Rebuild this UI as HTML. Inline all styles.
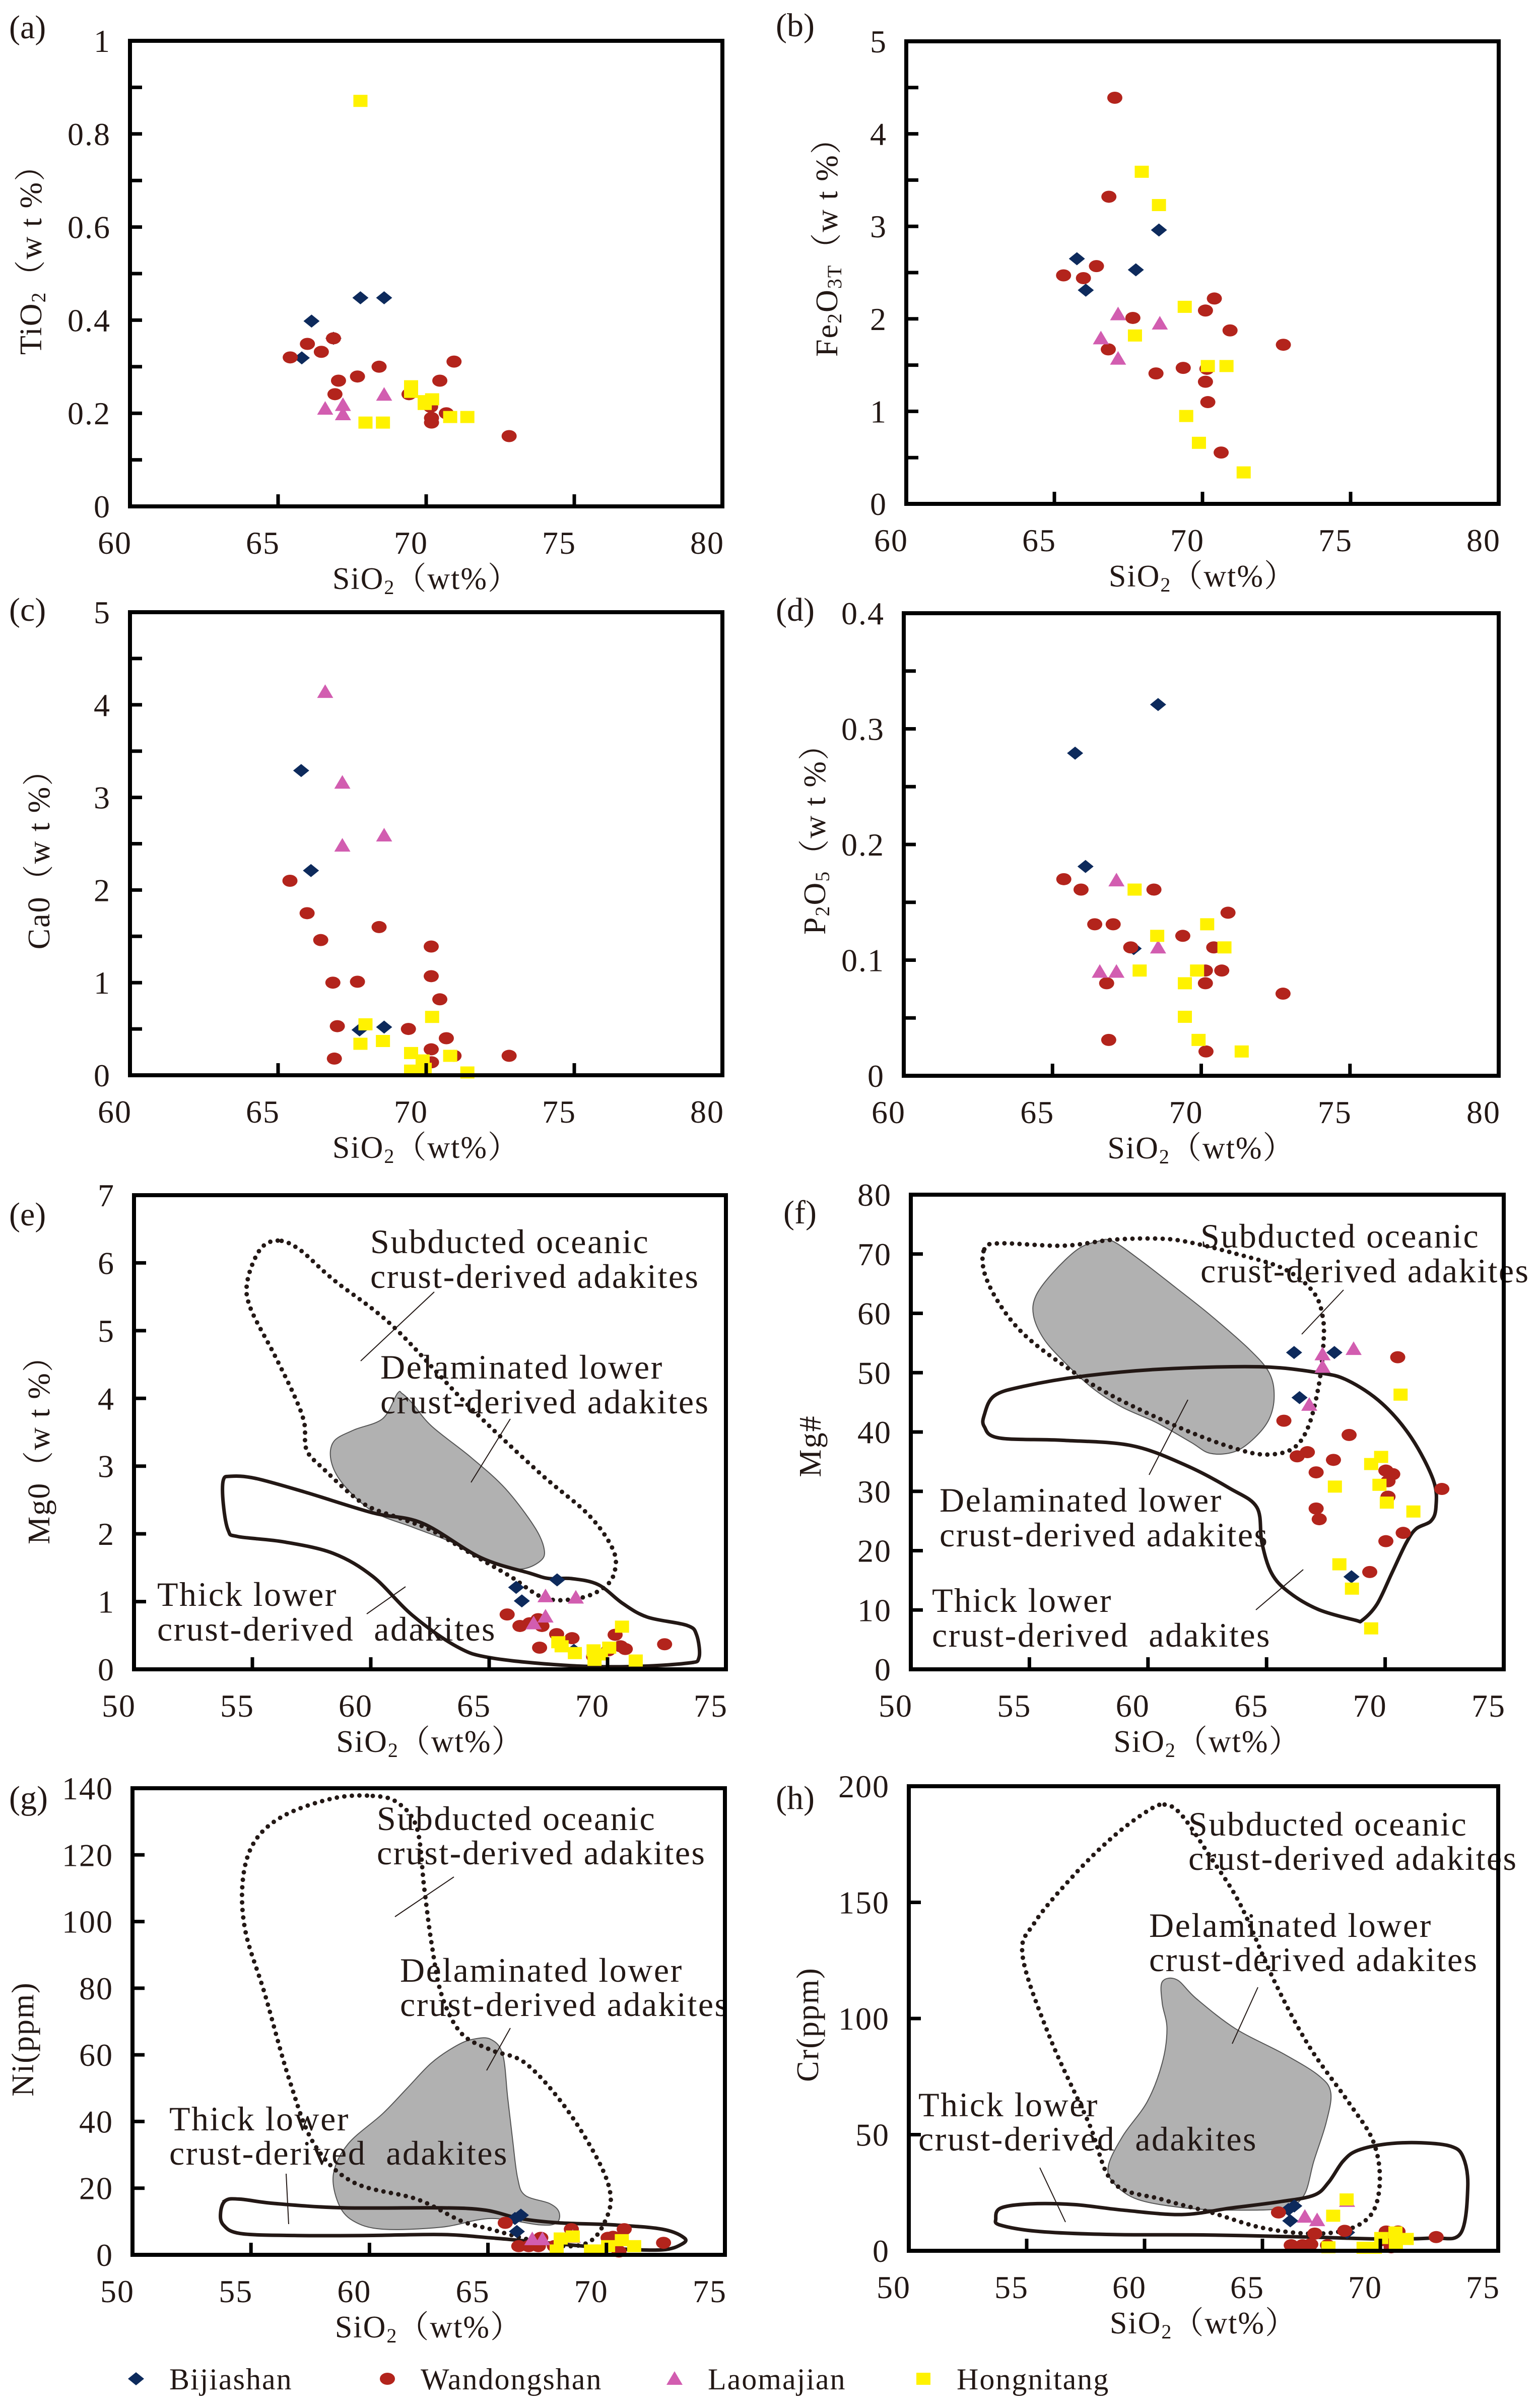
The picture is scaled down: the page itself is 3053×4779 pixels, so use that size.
<!DOCTYPE html>
<html><head><meta charset="utf-8"><title>SiO2 variation diagrams</title>
<style>
html,body{margin:0;padding:0;background:#fff;}
svg{display:block;font-family:"Liberation Serif","Noto Serif CJK SC",serif;}
</style></head>
<body>
<svg id="fig" width="3053" height="4779" viewBox="0 0 3053 4779" xmlns="http://www.w3.org/2000/svg"></svg>
<script>
// ---------------- DATA (SiO2 wt%, oxide value) ----------------
// (a) TiO2
const aBij=[[66.13,0.398],[67.78,0.448],[68.58,0.448],[65.8,0.319],[66.87,0.361]];
const aWan=[[65.41,0.32],[65.99,0.349],[66.46,0.332],[66.87,0.361],[67.04,0.27],[66.92,0.241],[67.68,0.279],[68.41,0.3],[69.42,0.241],[70.15,0.214],[70.18,0.19],[70.18,0.18],[70.46,0.27],[70.68,0.2],[70.94,0.311],[72.8,0.151]];
const aLao=[[66.59,0.21],[67.19,0.218],[67.19,0.198],[68.58,0.24]];
const aHon=[[67.78,0.871],[69.49,0.258],[69.49,0.246],[69.95,0.226],[70.2,0.23],[69.95,0.22],[67.95,0.18],[68.54,0.18],[70.81,0.192],[71.39,0.192]];
// (b) Fe2O3T
const bBij=[[65.76,2.65],[66.06,2.31],[67.75,2.53],[68.53,2.96]];
const bWan=[[67.04,4.39],[66.84,3.32],[66.42,2.57],[65.31,2.47],[65.98,2.44],[67.65,2.01],[66.82,1.67],[68.43,1.41],[69.35,1.47],[70.1,2.09],[70.4,2.22],[70.93,1.875],[70.1,1.32],[70.18,1.1],[70.63,0.555],[72.73,1.72],[70.15,1.46]];
const bLao=[[67.15,2.05],[66.57,1.79],[67.15,1.57],[68.56,1.95]];
const bHon=[[67.95,3.59],[68.53,3.23],[69.4,2.13],[67.72,1.82],[70.18,1.49],[70.81,1.49],[69.45,0.95],[69.88,0.66],[71.39,0.34]];
// (c) CaO
const cBij=[[65.78,3.29],[66.11,2.21],[67.75,0.49],[68.58,0.52]];
const cWan=[[65.4,2.1],[65.98,1.75],[66.44,1.46],[68.41,1.6],[66.85,1.0],[67.68,1.01],[67.0,0.53],[66.9,0.18],[69.4,0.5],[70.17,1.39],[70.17,1.07],[70.46,0.82],[70.68,0.4],[70.17,0.28],[70.18,0.14],[70.94,0.21],[72.8,0.21]];
const cLao=[[66.59,4.14],[67.17,3.16],[67.17,2.48],[68.58,2.59]];
const cHon=[[67.95,0.55],[67.78,0.34],[68.54,0.37],[70.2,0.63],[69.49,0.24],[69.88,0.16],[69.49,0.05],[69.95,0.07],[70.81,0.21],[71.39,0.03]];
// (d) P2O5
const dBij=[[65.76,0.279],[66.11,0.181],[68.55,0.321],[67.73,0.11]];
const dWan=[[65.38,0.17],[65.96,0.161],[66.42,0.131],[67.04,0.131],[67.63,0.111],[68.41,0.161],[69.38,0.121],[70.14,0.091],[70.14,0.08],[70.42,0.111],[70.69,0.091],[70.9,0.141],[66.82,0.08],[66.89,0.031],[70.16,0.021],[72.75,0.071]];
const dLao=[[67.15,0.169],[66.59,0.09],[67.15,0.09],[68.55,0.111]];
const dHon=[[67.76,0.161],[68.52,0.121],[67.93,0.091],[70.2,0.131],[70.78,0.111],[69.86,0.091],[69.45,0.08],[69.45,0.051],[69.91,0.031],[71.36,0.021]];
// (e) MgO
const eBij=[[66.14,1.21],[66.38,1.01],[67.87,1.32],[68.58,0.28]];
const eWan=[[65.76,0.81],[66.3,0.64],[66.71,0.68],[67.07,0.74],[67.23,0.64],[67.13,0.32],[67.85,0.52],[68.5,0.46],[69.41,0.19],[70.03,0.28],[70.32,0.51],[70.55,0.34],[70.75,0.3],[72.41,0.37]];
const eLao=[[67.38,1.08],[68.66,1.06],[67.38,0.78],[66.88,0.68]];
const eHon=[[67.92,0.4],[68.06,0.34],[68.62,0.24],[69.41,0.28],[69.72,0.22],[69.45,0.14],[70.07,0.32],[70.61,0.63],[71.19,0.13]];
const eSub=[[56.07,6.33],[55.33,6.2],[54.8,5.75],[54.9,5.35],[55.95,4.63],[56.77,4.04],[57.19,3.64],[57.29,3.24],[58.0,2.96],[59.67,2.45],[61.33,2.22],[62.57,2.05],[64.23,1.71],[65.9,1.37],[67.35,1.05],[68.8,1.05],[69.82,1.2],[70.28,1.42],[70.24,1.76],[69.2,2.28],[67.13,2.9],[64.02,3.93],[60.92,5.07],[58.43,5.75],[56.98,6.2]];
const eDel=[[61.12,4.07],[60.5,3.7],[59.26,3.53],[58.43,3.36],[58.33,3.07],[58.84,2.73],[60.09,2.33],[61.75,2.1],[63.4,1.88],[65.06,1.59],[66.3,1.48],[67.13,1.59],[67.33,1.76],[66.92,2.1],[65.68,2.67],[64.23,3.13],[62.57,3.59],[61.75,3.93],[61.33,4.07]];
const eThk=[[53.77,2.79],[54.08,2.85],[55.12,2.82],[57.19,2.62],[60.09,2.31],[62.16,2.16],[64.64,1.65],[66.71,1.42],[67.54,1.34],[68.47,1.34],[69.61,1.25],[70.65,0.97],[71.69,0.77],[73.34,0.65],[73.76,0.51],[73.86,0.17],[73.34,0.09],[70.86,0.04],[68.16,0.06],[65.06,0.17],[63.61,0.34],[61.75,0.8],[60.09,1.37],[58.43,1.71],[56.36,1.88],[54.39,1.96],[53.98,2.05],[53.77,2.45]];
// (f) Mg#
const fBij=[[66.16,53.4],[67.86,53.4],[66.39,45.8],[68.58,15.6]];
const fWan=[[70.53,52.6],[65.73,41.9],[68.48,39.5],[66.29,35.9],[66.72,36.6],[67.82,35.3],[67.09,33.2],[70.03,33.5],[70.32,32.9],[70.12,31.7],[70.12,29.1],[67.09,27.1],[67.22,25.3],[70.76,23.0],[70.03,21.6],[69.35,16.4],[72.39,30.4]];
const fLao=[[67.36,53.1],[67.36,51.0],[68.67,54.0],[66.8,44.6]];
const fHon=[[70.65,46.3],[69.83,35.8],[69.41,34.6],[67.88,30.8],[69.76,31.1],[70.07,28.1],[71.19,26.6],[68.07,17.7],[68.6,13.6],[69.41,6.9]];
const fSub=[[53.1,70.8],[53.72,71.8],[56.42,71.4],[58.49,72.4],[60.35,72.6],[61.59,72.1],[63.66,70.1],[65.73,67.5],[66.97,63.6],[67.38,59.1],[67.38,53.9],[67.18,47.4],[66.76,40.9],[66.14,37.3],[65.1,36.2],[63.86,37.0],[61.59,40.3],[58.49,46.1],[56.42,51.3],[54.76,56.5],[53.72,61.7],[53.1,66.9]];
const fDel=[[57.86,72.1],[58.49,72.2],[59.73,68.8],[61.18,64.3],[62.63,59.7],[64.28,53.9],[65.11,50.0],[65.32,46.1],[65.11,42.2],[64.49,39.0],[63.66,36.7],[62.63,36.4],[61.8,38.3],[60.35,41.6],[58.9,44.2],[57.66,47.4],[56.42,52.0],[55.59,55.8],[55.17,59.7],[55.28,63.0],[56.0,66.9],[57.04,70.8]];
const fThk=[[53.1,42.9],[53.52,46.1],[54.76,47.7],[57.24,49.4],[60.55,50.6],[64.69,51.0],[67.18,50.0],[68.42,48.7],[69.87,44.8],[71.11,39.0],[72.04,31.8],[72.14,27.3],[71.93,25.0],[71.31,23.7],[70.9,21.4],[70.28,16.2],[69.66,11.0],[69.04,8.3],[68.73,8.3],[67.18,10.1],[65.94,13.0],[65.21,16.2],[64.8,21.4],[64.59,27.3],[63.45,30.5],[61.59,34.4],[59.31,37.7],[56.42,38.6],[53.72,39.0],[53.1,40.9]];
// (g) Ni
const gBij=[[66.14,10.9],[66.39,11.9],[66.22,7.0]];
const gWan=[[65.73,9.6],[66.3,2.6],[66.72,2.6],[67.13,2.6],[67.23,5.1],[67.8,2.6],[68.52,7.7],[70.07,5.1],[70.28,5.4],[70.53,1.0],[70.75,7.7],[72.41,3.6]];
const gLao=[[66.87,4.7],[67.3,4.7],[68.58,5.4]];
const gHon=[[68.07,4.9],[68.58,5.5],[67.9,1.3],[69.35,1.3],[69.66,1.3],[70.07,2.6],[70.65,4.4],[71.17,2.6]];
const gSub=[[60.14,137.7],[61.18,135.7],[62.0,128.1],[62.31,110.1],[62.62,93.5],[63.04,78.1],[63.86,66.6],[65.11,61.5],[66.56,57.6],[68.21,44.8],[69.66,28.2],[70.18,17.3],[69.87,9.0],[69.25,3.8],[68.21,2.6],[66.76,4.5],[65.11,7.7],[63.86,10.2],[62.0,16.7],[59.31,21.8],[57.66,33.3],[56.62,52.5],[55.59,78.1],[54.76,97.3],[54.66,112.7],[55.17,124.2],[56.42,131.9],[58.49,137.0]];
const gDel=[[64.38,64.7],[65.11,64.7],[65.62,60.2],[65.83,47.4],[66.04,34.6],[66.25,23.1],[66.56,17.9],[67.6,15.4],[68.0,12.8],[67.9,9.6],[67.18,9.0],[65.11,10.9],[63.04,8.3],[60.55,7.7],[59.31,10.2],[58.69,15.4],[58.48,24.3],[59.1,33.3],[60.55,42.3],[61.59,50.0],[62.62,57.6],[63.66,62.7]];
const gThk=[[53.93,16.3],[54.55,16.7],[56.0,15.4],[58.9,14.1],[63.04,14.1],[64.9,13.4],[66.35,10.9],[68.0,9.6],[70.28,9.0],[72.35,7.7],[73.28,5.1],[73.18,3.2],[72.35,1.5],[70.28,1.9],[67.18,3.8],[65.11,5.1],[63.04,6.1],[59.93,5.8],[56.83,5.8],[54.55,6.4],[53.83,9.0],[53.72,12.8]];
// (h) Cr
const hBij=[[66.1,17.8],[66.35,19.3],[66.18,12.9],[68.59,7.9]];
const hWan=[[65.68,16.5],[66.22,2.4],[66.7,2.4],[67.05,2.8],[67.22,7.4],[67.76,2.4],[68.49,8.6],[70.25,8.3],[70.75,8.3],[70.46,1.5],[72.37,5.9],[70.08,4.6]];
const hLao=[[66.8,14.7],[67.32,13.2],[68.59,21.5]];
const hHon=[[68.57,22.1],[68.0,15.1],[67.8,1.5],[69.29,1.3],[69.77,1.3],[70.04,5.5],[70.64,7.9],[70.66,3.1],[71.12,5.1]];
const hSub=[[60.85,192.1],[61.58,187.5],[62.82,169.1],[64.07,148.9],[65.52,115.8],[66.97,88.2],[68.63,64.3],[69.67,47.8],[69.98,31.3],[69.67,16.5],[68.63,9.2],[66.97,7.4],[64.9,10.1],[62.82,16.5],[60.75,22.1],[58.67,29.4],[57.63,55.1],[55.98,91.9],[54.83,126.8],[55.35,141.5],[57.01,161.8],[58.67,178.3],[60.12,189.3]];
const hDel=[[60.75,115.8],[61.37,116.7],[62.2,108.5],[63.86,95.6],[65.93,84.6],[67.39,75.4],[67.9,68.0],[67.7,55.1],[67.18,38.6],[66.76,23.9],[65.93,18.4],[63.86,17.5],[61.78,18.4],[59.71,22.1],[58.67,29.4],[58.47,36.8],[59.09,49.6],[60.12,64.3],[60.75,80.9],[60.95,95.6],[60.75,106.6]];
const hThk=[[53.9,18.4],[55.15,20.2],[57.01,19.9],[59.09,17.5],[61.58,15.6],[63.65,18.4],[65.72,21.1],[67.18,23.9],[67.8,29.4],[68.42,38.6],[69.04,43.2],[70.29,46.0],[71.74,46.5],[72.99,45.0],[73.51,40.4],[73.71,27.6],[73.4,7.4],[72.16,5.5],[70.08,5.1],[66.97,5.9],[62.82,6.8],[58.67,7.0],[55.56,8.3],[53.9,11.0],[53.69,13.8]];
// tick labels
const xTicksAD=["60","65","70","75","80"];
const xTicksEH=["50","55","60","65","70","75"];
const yTicksA=["0","0.2","0.4","0.6","0.8","1"];
const yTicksB=["0","1","2","3","4","5"];
const yTicksC=["0","1","2","3","4","5"];
const yTicksD=["0","0.1","0.2","0.3","0.4"];
const yTicksE=["0","1","2","3","4","5","6","7"];
const yTicksF=["0","10","20","30","40","50","60","70","80"];
const yTicksG=["0","20","40","60","80","100","120","140"];
const yTicksH=["0","50","100","150","200"];
const legendNames=["Bijiashan","Wandongshan","Laomajian","Hongnitang"];

// ---------------- DRAWING ----------------
const NS="http://www.w3.org/2000/svg";
const svg=document.getElementById('fig');
function mk(tag,attrs,parent){const e=document.createElementNS(NS,tag);for(const k in attrs)e.setAttribute(k,attrs[k]);(parent||svg).appendChild(e);return e;}
const C={bij:"#0d2a5c",wan:"#b3241c",lao:"#d25db0",hon:"#fff200",ink:"#231815"};

function marker(g,type,x,y){
  let e;
  if(type==="bij"){e=mk('polygon',{points:`${x},${y-13} ${x+16},${y} ${x},${y+13} ${x-16},${y}`,fill:C.bij},g);}
  else if(type==="wan"){e=mk('ellipse',{cx:x,cy:y,rx:15,ry:12,fill:C.wan},g);}
  else if(type==="lao"){e=mk('polygon',{points:`${x},${y-15} ${x+16},${y+12} ${x-16},${y+12}`,fill:C.lao},g);}
  else {e=mk('rect',{x:x-14,y:y-12,width:28,height:24,fill:C.hon},g);}
  return e;
}
function smoothPath(pts){
  const n=pts.length;let d=`M${pts[0][0]},${pts[0][1]}`;
  for(let i=0;i<n;i++){
    const p0=pts[(i-1+n)%n],p1=pts[i],p2=pts[(i+1)%n],p3=pts[(i+2)%n];
    const c1x=p1[0]+(p2[0]-p0[0])/6,c1y=p1[1]+(p2[1]-p0[1])/6;
    const c2x=p2[0]-(p3[0]-p1[0])/6,c2y=p2[1]-(p3[1]-p1[1])/6;
    d+=` C${c1x.toFixed(1)},${c1y.toFixed(1)} ${c2x.toFixed(1)},${c2y.toFixed(1)} ${p2[0].toFixed(1)},${p2[1].toFixed(1)}`;
  }
  return d+'Z';
}

function panel(p){
  const g=mk('g',{});
  
  
  const sx=v=>p.L+(v-p.xmin)/(p.xmax-p.xmin)*(p.R-p.L);
  const sy=v=>p.B-(v-p.ymin)/(p.ymax-p.ymin)*(p.B-p.T);
  if(p.del){const e=mk('path',{d:smoothPath(p.del.map(q=>[sx(q[0]),sy(q[1])])),fill:"#b1b1b1",stroke:"#555",'stroke-width':2},g);
    }
  if(p.thk){const e=mk('path',{d:smoothPath(p.thk.map(q=>[sx(q[0]),sy(q[1])])),fill:"none",stroke:C.ink,'stroke-width':7},g);
    }
  if(p.sub){const e=mk('path',{d:smoothPath(p.sub.map(q=>[sx(q[0]),sy(q[1])])),fill:"none",stroke:C.ink,'stroke-width':9,'stroke-dasharray':'0 15','stroke-linecap':'round'},g);
    }
  (p.notes||[]).forEach(n=>{
    const t=mk('text',{x:n[0],y:n[1],'font-size':68,'letter-spacing':2.5,fill:C.ink},g);t.textContent=n[2];
    
    t.style.whiteSpace='pre';
  });
  (p.leaders||[]).forEach(l=>{mk('line',{x1:l[0],y1:l[1],x2:l[2],y2:l[3],stroke:C.ink,'stroke-width':2},g);});
  [["bij",p.bij],["wan",p.wan],["lao",p.lao],["hon",p.hon]].forEach(s=>{
    s[1].forEach(q=>{const e=marker(g,s[0],sx(q[0]),sy(q[1]));
      });
  });
  const box=mk('rect',{x:p.L,y:p.T,width:p.R-p.L,height:p.B-p.T,fill:"none",stroke:"#000",'stroke-width':8},g);
  
  const nx=p.xl.length;
  p.xl.forEach((lab,i)=>{
    const v=p.xmin+i*(p.xmax-p.xmin)/(nx-1),X=sx(v);
    if(i>0&&i<nx-1)mk('line',{x1:X,y1:p.B,x2:X,y2:p.B-24,stroke:"#000",'stroke-width':7},g);
    const t=mk('text',{x:X-30,y:p.B+94,'font-size':64,'letter-spacing':2,'text-anchor':'middle',fill:C.ink},g);t.textContent=lab;
    
  });
  const ny=p.yl.length;
  p.yl.forEach((lab,i)=>{
    const v=p.ymin+i*(p.ymax-p.ymin)/(ny-1),Y=sy(v);
    if(i>0&&i<ny-1)mk('line',{x1:p.L,y1:Y,x2:p.L+24,y2:Y,stroke:"#000",'stroke-width':7},g);
    if(p.minor&&i<ny-1){const Ym=sy(v+(p.ymax-p.ymin)/(ny-1)/2);mk('line',{x1:p.L,y1:Ym,x2:p.L+24,y2:Ym,stroke:"#000",'stroke-width':7},g);}
    const t=mk('text',{x:p.L-38,y:Y+22,'font-size':64,'letter-spacing':2,'text-anchor':'end',fill:C.ink},g);t.textContent=lab;
    
  });
  const xt=mk('text',{x:(p.L+p.R)/2,y:p.B+164,'font-size':62,'letter-spacing':2,'text-anchor':'middle',fill:C.ink},g);
  xt.innerHTML='SiO<tspan font-size="40" dy="10">2</tspan><tspan dy="-10">（wt%）</tspan>';
  
  const yt=mk('text',{x:0,y:0,'font-size':62,'letter-spacing':2,'text-anchor':'middle',fill:C.ink,transform:`translate(${p.ytx},${p.yty}) rotate(-90)`},g);
  yt.innerHTML=p.ytitle;
  
  const pl=mk('text',{x:p.lx,y:p.ly,'font-size':66,fill:C.ink},g);pl.textContent='('+p.id+')';
  
}

const sub='<tspan font-size="40" dy="8">';
panel({id:'a',L:258,R:1434,T:81,B:1005,xmin:60,xmax:80,ymin:0,ymax:1,xl:xTicksAD,yl:yTicksA,minor:true,
  bij:aBij,wan:aWan,lao:aLao,hon:aHon,ytx:82,yty:500,ytitle:'TiO'+sub+'2</tspan><tspan dy="-8">（w t %）</tspan>',lx:18,ly:76});
panel({id:'b',L:1799,R:2975,T:82,B:1000,xmin:60,xmax:80,ymin:0,ymax:5,xl:xTicksAD,yl:yTicksB,minor:true,
  bij:bBij,wan:bWan,lao:bLao,hon:bHon,ytx:1662,yty:475,ytitle:'Fe'+sub+'2</tspan><tspan dy="-8">O</tspan>'+sub+'3T</tspan><tspan dy="-8">（w t %）</tspan>',lx:1540,ly:72});
panel({id:'c',L:258,R:1434,T:1215,B:2134,xmin:60,xmax:80,ymin:0,ymax:5,xl:xTicksAD,yl:yTicksC,minor:true,
  bij:cBij,wan:cWan,lao:cLao,hon:cHon,ytx:98,yty:1690,ytitle:'Ca0（w t %）',lx:18,ly:1232});
panel({id:'d',L:1794,R:2975,T:1217,B:2135,xmin:60,xmax:80,ymin:0,ymax:0.4,xl:xTicksAD,yl:yTicksD,minor:true,
  bij:dBij,wan:dWan,lao:dLao,hon:dHon,ytx:1638,yty:1650,ytitle:'P'+sub+'2</tspan><tspan dy="-8">O</tspan>'+sub+'5</tspan><tspan dy="-8">（w t %）</tspan>',lx:1540,ly:1232});
panel({id:'e',L:266,R:1441,T:2372,B:3313,xmin:50,xmax:75,ymin:0,ymax:7,xl:xTicksEH,yl:yTicksE,minor:false,
  bij:eBij,wan:eWan,lao:eLao,hon:eHon,sub:eSub,del:eDel,thk:eThk,ytx:98,yty:2862,ytitle:'Mg0（w t %）',lx:18,ly:2432,
  notes:[[735,2487,'Subducted oceanic'],[735,2556,'crust-derived adakites'],[755,2736,'Delaminated lower'],[755,2805,'crust-derived adakites'],[312,3187,'Thick lower'],[312,3256,'crust-derived  adakites']],
  leaders:[[862,2564,716,2701],[1013,2816,935,2942],[805,3149,728,3203]]});
panel({id:'f',L:1808,R:2985,T:2371,B:3313,xmin:50,xmax:75,ymin:0,ymax:80,xl:xTicksEH,yl:yTicksF,minor:false,
  bij:fBij,wan:fWan,lao:fLao,hon:fHon,sub:fSub,del:fDel,thk:fThk,ytx:1629,yty:2870,ytitle:'Mg#',lx:1555,ly:2428,
  notes:[[2383,2476,'Subducted oceanic'],[2383,2545,'crust-derived adakites'],[1865,3000,'Delaminated lower'],[1865,3069,'crust-derived adakites'],[1850,3199,'Thick lower'],[1850,3268,'crust-derived  adakites']],
  leaders:[[2667,2560,2584,2648],[2358,2778,2281,2927],[2587,3115,2493,3195]]});
panel({id:'g',L:263,R:1439,T:3549,B:4475,xmin:50,xmax:75,ymin:0,ymax:140,xl:xTicksEH,yl:yTicksG,minor:false,
  bij:gBij,wan:gWan,lao:gLao,hon:gHon,sub:gSub,del:gDel,thk:gThk,ytx:66,yty:4047,ytitle:'Ni(ppm)',lx:18,ly:3590,
  notes:[[748,3632,'Subducted oceanic'],[748,3700,'crust-derived adakites'],[794,3933,'Delaminated lower'],[794,4001,'crust-derived adakites'],[336,4228,'Thick lower'],[336,4296,'crust-derived  adakites']],
  leaders:[[901,3725,784,3804],[1013,4025,966,4109],[568,4314,573,4414]]});
panel({id:'h',L:1804,R:2974,T:3545,B:4467,xmin:50,xmax:75,ymin:0,ymax:200,xl:xTicksEH,yl:yTicksH,minor:false,
  bij:hBij,wan:hWan,lao:hLao,hon:hHon,sub:hSub,del:hDel,thk:hThk,ytx:1624,yty:4018,ytitle:'Cr(ppm)',lx:1540,ly:3590,
  notes:[[2359,3643,'Subducted oceanic'],[2359,3711,'crust-derived adakites'],[2281,3844,'Delaminated lower'],[2281,3912,'crust-derived adakites'],[1823,4200,'Thick lower'],[1823,4268,'crust-derived  adakites']],
  leaders:[[2497,3944,2446,4056],[2064,4302,2115,4410]]});

// legend
const lg=mk('g',{});


const legendTypes=["bij","wan","lao","hon"];
const legendMX=[270,769,1339,1833];
legendNames.forEach((nm,i)=>{
  const m=marker(lg,legendTypes[i],legendMX[i],4721);
  
  
  const t=mk('text',{x:legendMX[i]+66,y:4742,'font-size':60,'letter-spacing':2,fill:C.ink},lg);t.textContent=nm;
  
  
});
</script>
</body></html>
